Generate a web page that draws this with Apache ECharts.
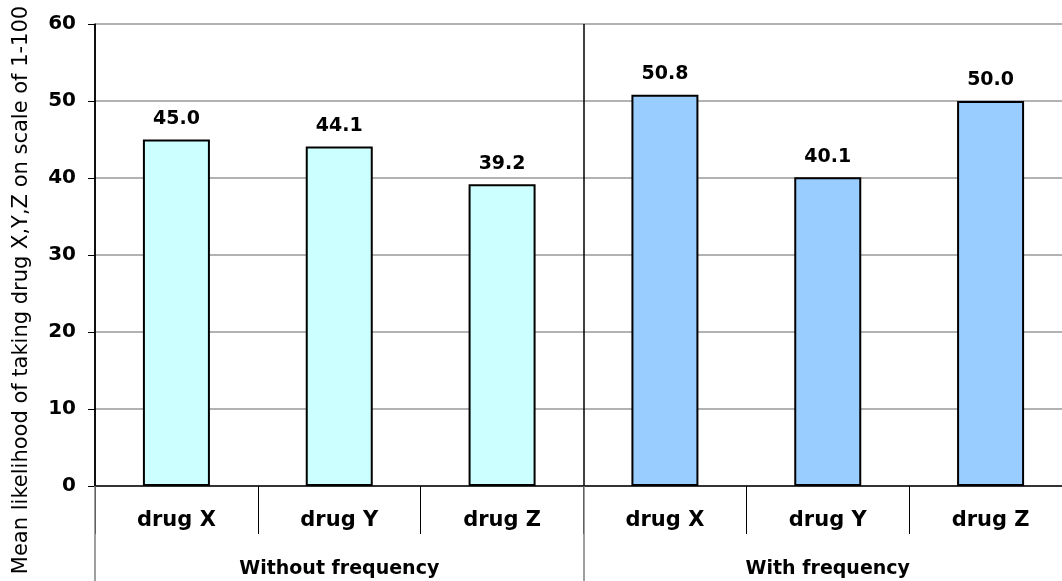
<!DOCTYPE html>
<html>
<head>
<meta charset="utf-8">
<script src="https://cdn.jsdelivr.net/npm/echarts@6/dist/echarts.min.js"></script>
<style>
  html, body { margin: 0; padding: 0; background: #fff; }
  #chart { width: 1062px; height: 581px; }
</style>
</head>
<body>
<div id="chart"></div>
<script>
// Two groups of three drugs; one bar per drug within each group
const drugs = ['drug X', 'drug Y', 'drug Z', 'drug X', 'drug Y', 'drug Z'];
const groups = ['Without frequency', 'With frequency'];
const likelihood = [45.0, 44.1, 39.2, 50.8, 40.1, 50.0];
const groupColors = ['#CCFFFF', '#99CCFF'];
const yTicks = { min: 0, max: 60, interval: 10 };
const yTitle = 'Mean likelihood of taking drug X,Y,Z on scale of 1-100';

const FONT = '"DejaVu Sans", Verdana, sans-serif';

const barData = likelihood.map((v, i) => ({
  value: v,
  itemStyle: { color: groupColors[i < 3 ? 0 : 1] }
}));

const chart = echarts.init(document.getElementById('chart'));
chart.setOption({
  animation: false,
  backgroundColor: '#ffffff',
  grid: {
    left: 95, top: 24, width: 977, height: 462,
    containLabel: false, outerBoundsMode: 'none'
  },
  graphic: [
    {
      type: 'text',
      x: 22, y: 290,
      rotation: Math.PI / 2,
      style: {
        text: yTitle,
        fontFamily: FONT, fontSize: 21, fill: '#000',
        align: 'center', verticalAlign: 'middle'
      }
    }
  ],
  xAxis: [
    {
      type: 'category',
      data: drugs,
      position: 'bottom',
      axisLine: { show: true, lineStyle: { color: '#333333', width: 2 } },
      axisTick: { show: true, interval: 0, length: 48, lineStyle: { color: '#000000', width: 1 } },
      axisLabel: {
        interval: 0, margin: 24, color: '#000',
        fontFamily: FONT, fontSize: 21, fontWeight: 'bold'
      },
      splitLine: { show: false }
    },
    {
      type: 'category',
      data: groups,
      position: 'bottom',
      z: 3,
      axisLine: { show: false },
      axisTick: { show: true, interval: 0, length: 95, lineStyle: { color: '#808080', width: 1.5 } },
      axisLabel: {
        interval: 0, margin: 74, color: '#000',
        fontFamily: FONT, fontSize: 19, fontWeight: 'bold'
      },
      splitLine: { show: true, interval: 0, lineStyle: { color: '#000000', width: 1.5 } }
    }
  ],
  yAxis: {
    type: 'value',
    min: yTicks.min, max: yTicks.max, interval: yTicks.interval,
    axisLine: { show: true, lineStyle: { color: '#000000', width: 1.5 } },
    axisTick: { show: true, inside: false, length: 7, lineStyle: { color: '#000000' } },
    axisLabel: {
      margin: 19, color: '#000',
      fontFamily: FONT, fontSize: 20, fontWeight: 'bold'
    },
    splitLine: { show: true, lineStyle: { color: '#999999', width: 1.5 } }
  },
  series: [
    {
      type: 'bar',
      xAxisIndex: 0,
      data: barData,
      barWidth: 67,
      itemStyle: { borderColor: '#000000', borderWidth: 2 },
      label: {
        show: true,
        position: 'top',
        distance: 11,
        formatter: p => p.value.toFixed(1),
        fontFamily: FONT, fontSize: 19, fontWeight: 'bold', color: '#000'
      }
    }
  ]
});
</script>
</body>
</html>
